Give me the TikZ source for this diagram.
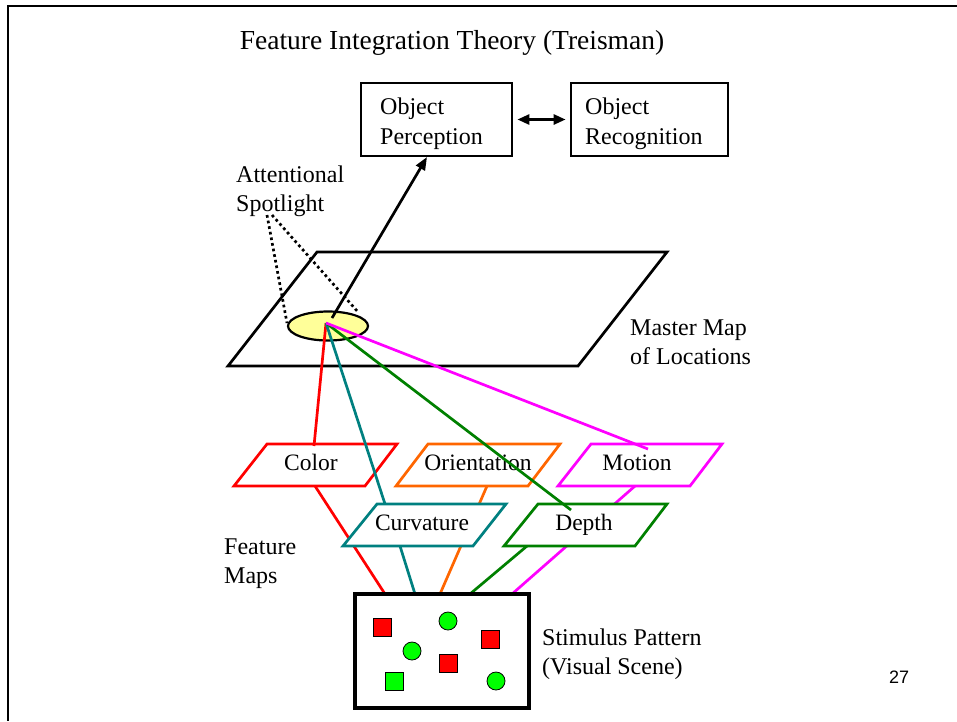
\documentclass[tikz,border=0pt]{standalone}
\usepackage{fontspec}
\setmainfont{Liberation Serif}
\newfontfamily\numfont{Liberation Sans}
\usetikzlibrary{arrows.meta,shapes.geometric}
\definecolor{cred}{RGB}{255,0,0}
\definecolor{corange}{RGB}{255,102,0}
\definecolor{cmag}{RGB}{255,0,255}
\definecolor{cteal}{RGB}{0,128,128}
\definecolor{cgreen}{RGB}{0,128,0}
\definecolor{cyellow}{RGB}{255,255,153}
\definecolor{sgreen}{RGB}{0,255,0}
\begin{document}
\begin{tikzpicture}[x=1pt,y=-1pt,
  body/.style={font=\fontsize{24}{29}\selectfont, inner sep=0pt, align=left},
  btxt/.style={font=\fontsize{24}{30}\selectfont, inner sep=0pt, align=left, anchor=west},
  obox/.style={draw, line width=2.8pt, minimum height=73pt, inner sep=0pt},
  fmapbox/.style={line width=2.7pt, fill=white, line join=miter},
  flabel/.style={font=\fontsize{23.5}{28}\selectfont, inner sep=0pt, text height=17pt, text depth=5pt},
  link/.style={line width=2.7pt},
  arr/.style={line width=2.7pt, -{Triangle[length=13pt,width=10pt]}},
  darr/.style={line width=2.7pt, {Triangle[length=12pt,width=10pt]}-{Triangle[length=12pt,width=10pt]}},
  dots/.style={line width=2.7pt, dash pattern=on 2.7pt off 3pt},
  sq/.style={draw=black, line width=0.8pt, minimum size=18pt, inner sep=0pt},
  circ/.style={circle, draw=black, line width=0.8pt, minimum size=18pt, inner sep=0pt, fill=sgreen}
]
\useasboundingbox (0,0) rectangle (957,721);
\fill[white] (0,0) rectangle (957,721);
% frame
\draw[line width=2.7pt] (957,6) -- (8,6) -- (8,721);

% title
\node[font=\fontsize{27.5}{32}\selectfont, inner sep=0pt] (title) at (452,43) {Feature Integration Theory (Treisman)};

% object boxes
\node[obox, minimum width=151pt] (op) at (436.5,119.5) {};
\node[obox, minimum width=157pt] (or) at (649.5,119.5) {};
\node[btxt] (opt) at (380,124) {Object\\Perception};
\node[btxt] (ort) at (585,124) {Object\\Recognition};
\draw[darr] ([xshift=4pt]op.east) -- ([xshift=-4pt]or.west);

% labels
\node[body, anchor=west] (att) at (236,191) {Attentional\\Spotlight};
\node[body, anchor=west] (mml) at (630,342) {Master Map\\of Locations};
\node[body, anchor=west] (fml) at (224,564) {Feature\\Maps};
\node[body, anchor=west] (stl) at (542,654) {Stimulus Pattern\\(Visual Scene)};
\node[font=\numfont\fontsize{18}{20}\selectfont, inner sep=0pt] (pg) at (899,677) {27};

% feature map endpoints to stimulus
\coordinate (cb) at (315,486);
\coordinate (kb) at (400,546);
\coordinate (ob) at (487,486);
\coordinate (db) at (527,546);
\coordinate (mb) at (635,486);
\coordinate (s1) at (385,594);
\coordinate (s2) at (415,594);
\coordinate (s3) at (440,594);
\coordinate (s4) at (470,594);
\coordinate (s5) at (512,594);
\draw[link, cred] (cb) -- (s1);
\draw[link, cteal] (kb) -- (s2);
\draw[link, corange] (ob) -- (s3);
\draw[link, cgreen] (db) -- (s4);
\draw[link, cmag] (mb) -- (s5);

% feature maps
\draw[fmapbox, draw=cred] (267,444) -- (397,444) -- (365,486) -- (234,486) -- cycle;
\draw[fmapbox, draw=corange] (428,444) -- (560,444) -- (528,486) -- (396,486) -- cycle;
\draw[fmapbox, draw=cmag] (591,444) -- (722,444) -- (690,486) -- (558,486) -- cycle;
\draw[fmapbox, draw=cteal] (377,504) -- (506,504) -- (473,546) -- (343,546) -- cycle;
\draw[fmapbox, draw=cgreen] (538,504) -- (667,504) -- (635,546) -- (504,546) -- cycle;
\node[flabel] (color) at (311,464) {Color};
\node[flabel] (orient) at (478,464) {Orientation};
\node[flabel] (motion) at (637,464) {Motion};
\node[flabel] (curv) at (422,524) {Curvature};
\node[flabel] (depth) at (584,524) {Depth};

% stimulus
\node[draw, line width=3.5pt, fill=white, minimum width=174pt, minimum height=114pt] (stim) at (442,651) {};
\node[sq, fill=cred] (q1) at (382.5,627.5) {};
\node[circ] (c1) at (448,621) {};
\node[sq, fill=cred] (q2) at (490.5,639) {};
\node[circ] (c2) at (412,651) {};
\node[sq, fill=cred] (q3) at (448.5,663) {};
\node[sq, fill=sgreen] (q4) at (394,681) {};
\node[circ] (c3) at (496,681) {};

% master map
\draw[line width=2.7pt, line join=miter] (317,252) -- (667,252) -- (578,366) -- (228,366) -- cycle;
\node[ellipse, draw, line width=2.2pt, fill=cyellow, minimum width=80pt, minimum height=29pt, inner sep=0pt] (spot) at (328,326) {};
\coordinate (sp) at (326,323);

% spotlight links
\coordinate (ce) at (314,446);
\coordinate (ke) at (385,504);
\coordinate (de) at (571,510);
\coordinate (me) at (648,449);
\draw[link, cred] (sp) -- (ce);
\draw[link, cteal] (sp) -- (ke);
\draw[link, cgreen] (sp) -- (de);
\draw[link, cmag] (sp) -- (me);

% arrow to perception
\coordinate (sa) at (332,318);
\coordinate (optip) at (427,157);
\draw[arr] (sa) -- (optip);

% dotted spotlight
\coordinate (d0a) at (267,215);
\coordinate (d0b) at (272,215);
\coordinate (d1) at (287,323);
\coordinate (d2) at (358,312);
\draw[dots] (d0a) -- (d1);
\draw[dots] (d0b) -- (d2);
\end{tikzpicture}
\end{document}
